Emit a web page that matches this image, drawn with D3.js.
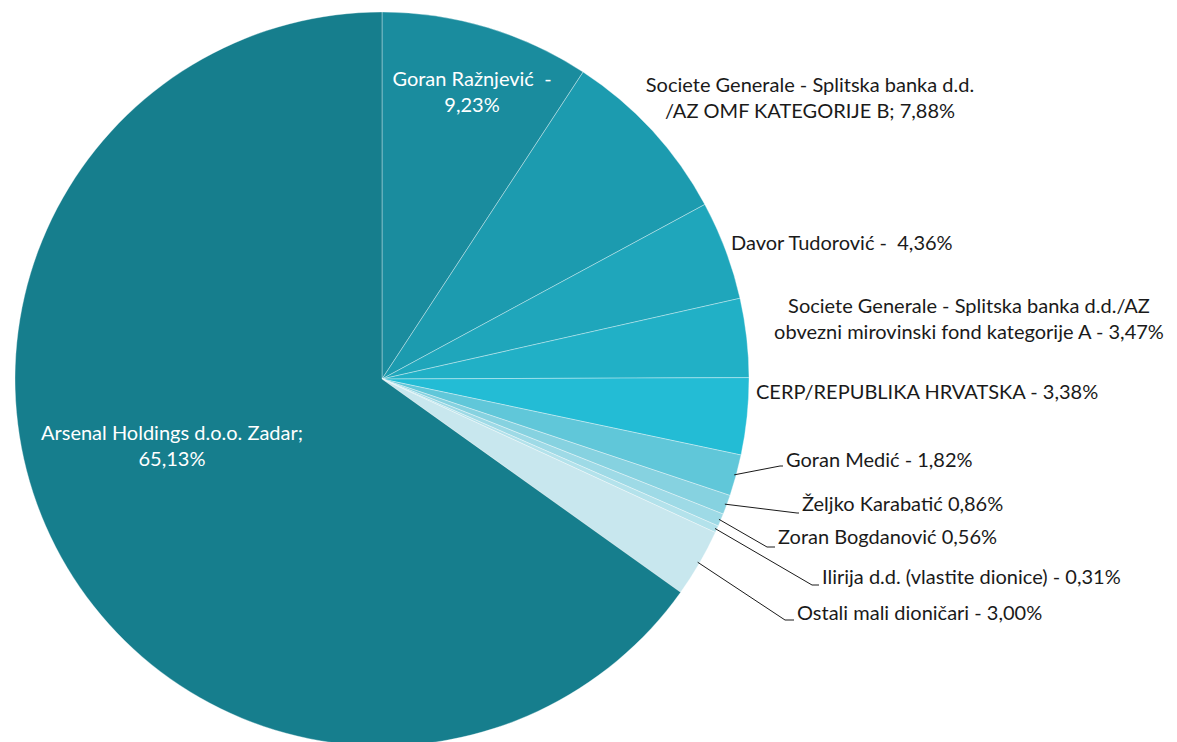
<!DOCTYPE html>
<html>
  <head>
    <meta charset="utf-8">
    <title>Vlasnička struktura</title>
    <style>
      body { margin: 0; background: #fff; }
      text { font-family: Lato, "Open Sans", sans-serif; font-size: 20px; white-space: pre; }
    </style>
  </head>
  <body>
    <div id="chart"></div>
    <script src="https://cdn.jsdelivr.net/npm/d3@7"></script>
    <script>
      // shareholders, clockwise from 12 o'clock
      var names = ["Goran Ražnjević", "Societe Generale B", "Davor Tudorović", "Societe Generale A",
                   "CERP", "Goran Medić", "Željko Karabatić", "Zoran Bogdanović", "Ilirija", "Ostali", "Arsenal"];
      var shares = [9.23, 7.88, 4.36, 3.47, 3.38, 1.82, 0.86, 0.56, 0.31, 3.00, 65.13];
      var labels = [
        ["Goran Ražnjević  -", "9,23%"],
        ["Societe Generale - Splitska banka d.d.", "/AZ OMF KATEGORIJE B; 7,88%"],
        ["Davor Tudorović -  4,36%"],
        ["Societe Generale - Splitska banka d.d./AZ", "obvezni mirovinski fond kategorije A - 3,47%"],
        ["CERP/REPUBLIKA HRVATSKA - 3,38%"],
        ["Goran Medić - 1,82%"],
        ["Željko Karabatić 0,86%"],
        ["Zoran Bogdanović 0,56%"],
        ["Ilirija d.d. (vlastite dionice) - 0,31%"],
        ["Ostali mali dioničari - 3,00%"],
        ["Arsenal Holdings d.o.o. Zadar;", "65,13%"]
      ];
      var colors = ["#1a8c9e", "#1c9baf", "#1fa6bb", "#21b0c6", "#23bcd5", "#60c7d9",
                    "#86d2e0", "#9edae6", "#b3e2eb", "#c8e7ee", "#167e8d"];

      var W = 1177, H = 742, cx = 382, cy = 379, R = 367;

      // label placement: [x, y of first line, anchor, leader?]
      var labelPos = [
        [472, 81, "middle", false],
        [810, 87, "middle", false],
        [731, 245, "start", false],
        [969, 308, "middle", false],
        [756, 394, "start", false],
        [786, 462, "start", true],
        [802, 506, "start", true],
        [778, 539, "start", true],
        [822, 579, "start", true],
        [797, 615, "start", true],
        [172, 435, "middle", false]
      ];
      // elbow of the leader line (where the horizontal stub begins)
      var elbow = [null, null, null, null, null, [780, 466], [797, 513], [767, 547], [812, 585], [785, 620], null];

      var svg = d3.select("#chart").append("svg").attr("width", W).attr("height", H);
      var g = svg.append("g").attr("transform", "translate(" + cx + "," + cy + ")");

      var pie = d3.pie().sort(null).value(function(d) { return d; });
      var arcs = pie(shares);
      var arc = d3.arc().innerRadius(0).outerRadius(R);

      g.selectAll("path.slice").data(arcs).enter().append("path")
        .attr("class", "slice")
        .attr("d", arc)
        .attr("fill", function(d, i) { return colors[i]; })
        .attr("stroke", "rgba(255,255,255,0.35)")
        .attr("stroke-width", 1);

      // leader lines
      arcs.forEach(function(a, i) {
        if (!labelPos[i][3]) return;
        var m = (a.startAngle + a.endAngle) / 2;
        var x0 = cx + (R - 2) * Math.sin(m), y0 = cy - (R - 2) * Math.cos(m);
        var e = elbow[i];
        svg.append("polyline")
          .attr("points", [[x0, y0], e, [labelPos[i][0] - 3, e[1]]].map(function(p) { return p.join(","); }).join(" "))
          .attr("fill", "none").attr("stroke", "#1a1a1a").attr("stroke-width", 1);
      });

      var inside = [0, 10];
      labels.forEach(function(lines, i) {
        var p = labelPos[i];
        var t = svg.append("text")
          .attr("x", p[0]).attr("y", p[1])
          .attr("text-anchor", p[2])
          .attr("dominant-baseline", "middle")
          .attr("fill", inside.indexOf(i) >= 0 ? "#ffffff" : "#1a1a1a");
        lines.forEach(function(l, k) {
          t.append("tspan").attr("x", p[0]).attr("dy", k === 0 ? 0 : 26).text(l);
        });
      });
    </script>
  </body>
</html>
